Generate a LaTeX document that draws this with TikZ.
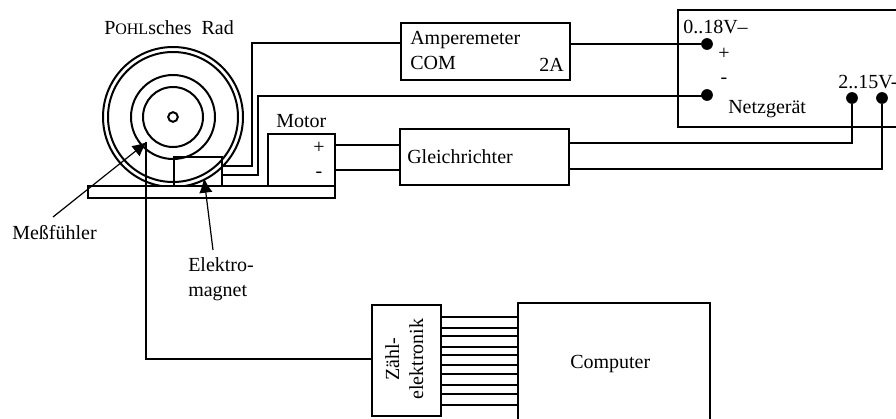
\documentclass[tikz,border=0pt]{standalone}
\usepackage{fontspec}
\setmainfont{Liberation Serif}
\usetikzlibrary{arrows.meta}
\tikzset{
  wire/.style={line width=1.85pt},
  thinwire/.style={line width=1.2pt},
  ring/.style={line width=1.5pt},
  boxn/.style={draw,line width=1.85pt,fill=white,inner sep=0pt,anchor=north west},
  txt/.style={inner sep=0pt,anchor=base west,font=\fontsize{15}{18}\selectfont},
  sign/.style={inner sep=0pt,anchor=center,font=\fontsize{15}{18}\selectfont},
  terminal/.style={circle,fill=black,inner sep=0pt,minimum size=8.8pt},
  ptr/.style={line width=0.9pt,-{Latex[length=11pt,width=10pt]}}
}
\newcommand{\pxbox}[5]{\node[boxn,minimum width=#4*0.75pt,minimum height=#5*0.75pt] (#1) at (#2,#3) {};}
\begin{document}
\begin{tikzpicture}[x=0.75pt,y=-0.75pt]
\useasboundingbox (0,0) rectangle (896,418);
% wheel
\coordinate (hub) at (173,117);
\draw[ring] (hub) circle[radius=70*0.75pt];
\draw[ring] (hub) circle[radius=65*0.75pt];
\draw[ring] (hub) circle[radius=42*0.75pt];
\draw[ring] (hub) circle[radius=30*0.75pt];
\draw[ring] (hub) circle[radius=4.8*0.75pt];
% base plate
\pxbox{plate}{87}{185}{247}{12}
% magnet
\draw[wire] (174,185) -- (174,157) -- (222,157) -- (222,185);
% motor
\pxbox{motor}{267}{133}{67}{52}
% boxes
\pxbox{amp}{400}{22}{169}{57}
\pxbox{glei}{399}{128}{169}{56}
\pxbox{netz}{677}{9}{240}{117}
\pxbox{zaehl}{371}{304}{69}{111}
\pxbox{comp}{517}{302}{192}{130}
% terminals
\node[terminal] (p1) at (707,44) {};
\node[terminal] (p2) at (707,95) {};
\node[terminal] (p3) at (852,98) {};
\node[terminal] (p4) at (882,98) {};
% connectors
\coordinate (m1) at (222,166);
\coordinate (m2) at (222,175);
\draw[wire] (m1) -- (252,166) -- (252,43) -- (amp.west |- 0,43);
\draw[thinwire] (m2) -- (258,175) -- (258,96) -- (p2.center |- 0,96);
\draw[wire] (amp.east |- p1) -- (p1);
\draw[thinwire] (motor.east |- 0,145) -- (glei.west |- 0,145);
\draw[wire] (motor.east |- 0,170) -- (glei.west |- 0,170);
\draw[wire] (glei.east |- 0,143) -- (p3.center |- 0,143) -- (p3);
\draw[wire] (glei.east |- 0,169) -- (p4.center |- 0,169) -- (p4);
\foreach \y in {317,347,385,405}
  \draw[thinwire] (zaehl.east |- 0,\y) -- (comp.west |- 0,\y);
\foreach \y in {328,336,355,365,374,394}
  \draw[wire] (zaehl.east |- 0,\y) -- (comp.west |- 0,\y);
% sensor
\coordinate (sensor) at (146,142);
\draw[wire] (zaehl.west |- 0,359) -- (146,359) -- (sensor);
% labels
\node[txt] (tpohl) at (104,34) {P{\fontsize{12}{14}\selectfont OHL}sches\hspace{0.5em}Rad};
\node[txt] (tmess) at (12,239) {Meßfühler};
\node[txt] (tel1) at (188,271) {Elektro-};
\node[txt] (tel2) at (188,296) {magnet};
\node[txt] (tmotor) at (276,127) {Motor};
\node[sign] (tplus) at (319,148) {+};
\node[sign] (tminus) at (319,175) {-};
\node[txt] (tamp) at (410,44) {Amperemeter};
\node[txt] (tcom) at (410,69) {COM};
\node[txt] (t2a) at (539,71) {2A};
\node[txt] (tglei) at (407,163) {Gleichrichter};
\node[txt] (tcomp) at (570,368) {Computer};
\node[txt] (t018) at (683,33) {0..18V–};
\node[sign] (tp2) at (724,54) {+};
\node[sign] (tm2) at (724,81) {-};
\node[txt] (tnetz) at (728,113) {Netzgerät};
\node[txt] (t215) at (838,88) {2..15V-};
\node[inner sep=0pt,rotate=90,anchor=base,font=\fontsize{15}{18}\selectfont] (tz1) at (399,359) {Zähl-};
\node[inner sep=0pt,rotate=90,anchor=base,font=\fontsize{15}{18}\selectfont] (tz2) at (423,359) {elektronik};
% pointers
\coordinate (messtip) at (147,142);
\coordinate (messend) at (53,217);
\draw[ptr] (messend) -- (messtip);
\coordinate (eltip) at (204,178);
\coordinate (elend) at (213,250);
\draw[ptr] (elend) -- (eltip);
\end{tikzpicture}
\end{document}
